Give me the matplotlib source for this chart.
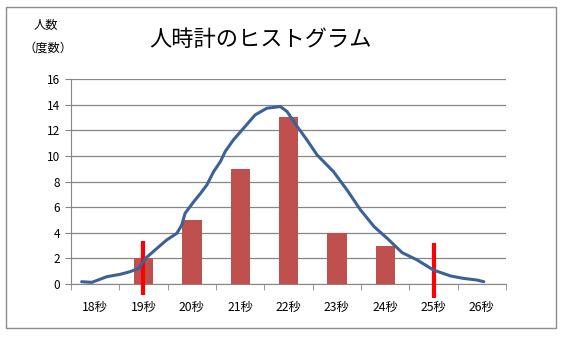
import numpy as np
import matplotlib.pyplot as plt
from matplotlib.patches import Rectangle

plt.rcParams['font.family'] = ['Noto Sans CJK JP', 'DejaVu Sans']

categories = ['18秒', '19秒', '20秒', '21秒', '22秒', '23秒', '24秒', '25秒', '26秒']
bar_pos = [1, 2, 3, 4, 5, 6]
bar_values = [2, 5, 9, 13, 4, 3]

# hand drawn distribution curve (category index, count)
curve_x = [-0.28, -0.07, 0.24, 0.52, 0.72, 0.90, 1.04, 1.28, 1.48, 1.69, 1.79, 1.86,
           2.04, 2.17, 2.31, 2.45, 2.59, 2.69, 2.86, 3.07, 3.31, 3.55, 3.83, 3.97,
           4.18, 4.38, 4.59, 4.93, 5.21, 5.49, 5.77, 6.04, 6.35, 6.66, 7.00, 7.35,
           7.62, 7.90, 8.04]
curve_y = [0.18, 0.13, 0.57, 0.76, 0.96, 1.22, 2.00, 2.79, 3.44, 3.96, 4.60, 5.52,
           6.43, 7.03, 7.73, 8.77, 9.55, 10.34, 11.25, 12.16, 13.20, 13.72, 13.85, 13.46,
           12.29, 11.25, 10.08, 8.77, 7.34, 5.78, 4.48, 3.57, 2.45, 1.88, 1.09, 0.63,
           0.44, 0.31, 0.18]

# red markers (position, top, bottom)
mark_x = [0.99, 7.01]
mark_top = [3.35, 3.2]
mark_bottom = [-0.88, -1.1]

fig = plt.figure(figsize=(5.61, 3.39), dpi=100)
fig.patches.append(Rectangle((0.0107, 0.0324), 0.980, 0.947, transform=fig.transFigure,
                             fill=False, edgecolor='#8c8c8c', linewidth=1))
ax = fig.add_axes([0.1266, 0.1622, 0.7754, 0.6047])

ax.bar(bar_pos, bar_values, width=0.4, color='#C0504D', zorder=2)
for x, t, b in zip(mark_x, mark_top, mark_bottom):
    ax.plot([x, x], [b, t], color='#FF0000', linewidth=3, clip_on=False, zorder=3,
            solid_capstyle='butt')
ax.plot(curve_x, curve_y, color='#3C6295', linewidth=2.2, zorder=4,
        solid_capstyle='round', solid_joinstyle='round')

ax.set_xlim(-0.5, 8.5)
ax.set_ylim(0, 16)
ax.set_yticks(np.arange(0, 17, 2))
ax.set_xticks(range(len(categories)))
ax.set_xticklabels(categories, fontsize=8.8)
ax.set_xticks(np.arange(-0.5, 8.6, 1), minor=True)
ax.tick_params(axis='x', which='major', length=0, pad=12)
ax.tick_params(axis='x', which='minor', length=4, color='#868686', direction='out')
ax.tick_params(axis='y', labelsize=8.5, length=4, color='#868686', pad=4)
ax.yaxis.grid(True, color='#868686', linewidth=0.9)
ax.set_axisbelow(True)
for s in ['top', 'right']:
    ax.spines[s].set_visible(False)
for s in ['left', 'bottom']:
    ax.spines[s].set_color('#868686')

fig.text(261 / 561, 1 - 40 / 339, '人時計のヒストグラム', fontsize=16,
         ha='center', va='center')
fig.text(46 / 561, 1 - 25 / 339, '人数', fontsize=8.8, ha='center', va='center')
fig.text(48 / 561, 1 - 48 / 339, '（度数）', fontsize=8.8, ha='center', va='center')

fig.savefig('out.png', dpi=100)
